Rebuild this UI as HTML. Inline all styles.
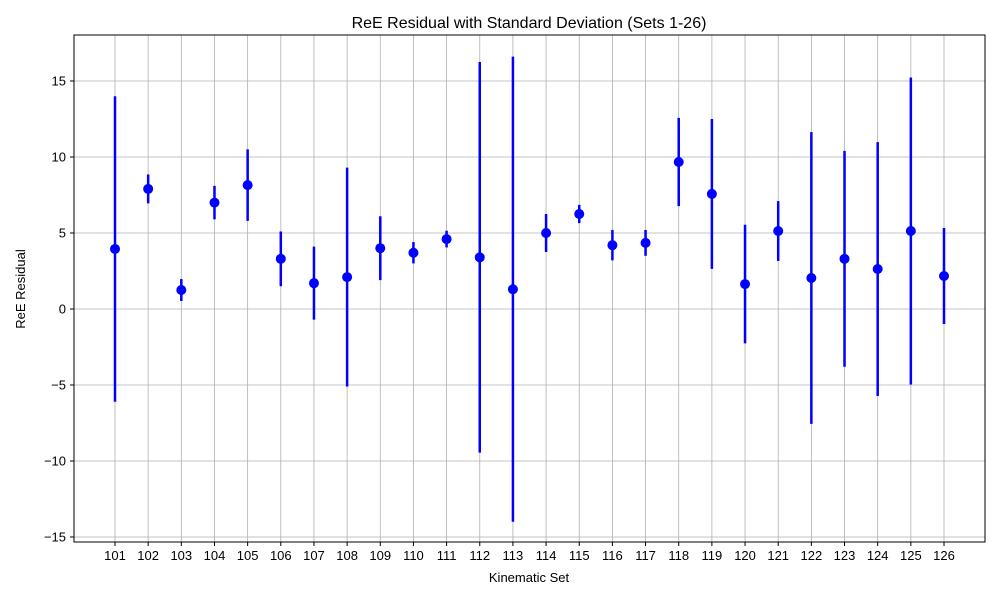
<!DOCTYPE html>
<html><head><meta charset="utf-8"><style>body{margin:0;background:#fff}svg{font-family:"Liberation Sans","DejaVu Sans",sans-serif}</style></head>
<body>
<svg id="chart" width="1000" height="600"></svg>
<script>
const categories=[101,102,103,104,105,106,107,108,109,110,111,112,113,114,115,116,117,118,119,120,121,122,123,124,125,126];
const values=[3.95,7.9,1.25,7.0,8.15,3.3,1.7,2.1,4.0,3.7,4.6,3.4,1.3,5.0,6.25,4.2,4.35,9.67,7.57,1.64,5.13,2.04,3.3,2.63,5.13,2.17];
const errors=[10.05,0.95,0.72,1.1,2.35,1.8,2.4,7.2,2.1,0.7,0.55,12.85,15.3,1.25,0.6,1.0,0.85,2.9,4.93,3.9,1.97,9.6,7.1,8.35,10.1,3.16];
const yTicks=[-15,-10,-5,0,5,10,15];
const L=74,R=985,T=35,B=542;
const xs=i=>115+i*(944-115)/(categories.length-1);
const ys=v=>309-v*15.2;
const svg=document.getElementById('chart');
const NS='http://www.w3.org/2000/svg';
function mk(tag,attrs,parent){const e=document.createElementNS(NS,tag);for(const k in attrs)e.setAttribute(k,attrs[k]);(parent||svg).appendChild(e);return e;}
// grid
categories.forEach((c,i)=>{const g=mk('line',{x1:xs(i),x2:xs(i),y1:T,y2:B,stroke:'#b0b0b0','stroke-width':0.8});


mk('line',{x1:xs(i),x2:xs(i),y1:B,y2:B+4,stroke:'#000'});
const t=mk('text',{x:xs(i),y:B+18,'font-size':13,'text-anchor':'middle'});t.textContent=c;

});
yTicks.forEach(v=>{const g=mk('line',{x1:L,x2:R,y1:ys(v),y2:ys(v),stroke:'#b0b0b0','stroke-width':0.8});


mk('line',{x1:L-4,x2:L,y1:ys(v),y2:ys(v),stroke:'#000'});
const t=mk('text',{x:L-8,y:ys(v)+4.5,'font-size':13,'text-anchor':'end'});t.textContent=(v<0?'\u2212'+(-v):v);

});
// series
categories.forEach((c,i)=>{const e=mk('line',{x1:xs(i),x2:xs(i),y1:ys(values[i]+errors[i]),y2:ys(values[i]-errors[i]),stroke:'#0000ff','stroke-width':2.5});


const p=mk('circle',{cx:xs(i),cy:ys(values[i]),r:5,fill:'#0000ff'});

});
const fr=mk('rect',{x:L,y:T,width:R-L,height:B-T,fill:'none',stroke:'#000','stroke-width':1});


const ti=mk('text',{x:529,y:28,'font-size':16,'text-anchor':'middle'});ti.textContent='ReE Residual with Standard Deviation (Sets 1-26)';


const xl=mk('text',{x:529,y:582,'font-size':13,'text-anchor':'middle'});xl.textContent='Kinematic Set';


const yl=mk('text',{x:25,y:289,'font-size':13,'text-anchor':'middle',transform:'rotate(-90 25 289)'});yl.textContent='ReE Residual';


</script>
</body></html>
